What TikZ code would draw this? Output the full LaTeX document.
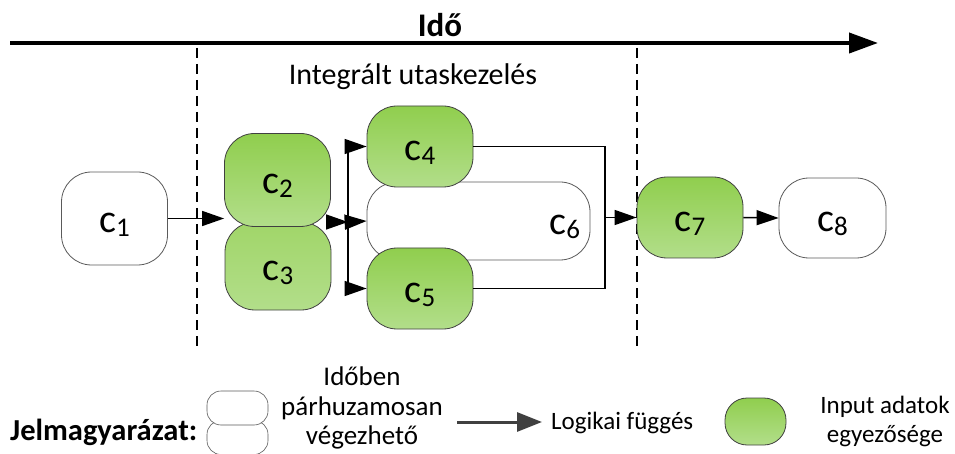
\documentclass[tikz,border=0pt]{standalone}
\usepackage{fontspec}
\setmainfont{Carlito}
\usepackage{xcolor}
\usepackage{tikz}
\usetikzlibrary{arrows.meta}
\usetikzlibrary{calc}
\usetikzlibrary{positioning}

\definecolor{inputtop}{RGB}{144,206,78}
\definecolor{inputbot}{RGB}{178,222,138}
\definecolor{edgegray}{RGB}{90,90,90}
\definecolor{legendarrow}{RGB}{64,64,64}

\newcommand{\csub}[1]{c\raisebox{-4pt}{\fontsize{27}{27}\selectfont #1}}

\tikzset{
  task/.style={draw=edgegray, line width=0.8pt, fill=white, rounded corners=30pt,
    minimum width=106pt, minimum height=81pt, inner sep=0pt,
    text height=31pt, text depth=3pt,
    font=\fontsize{40}{40}\selectfont},
  input/.style={task, draw=black!75, top color=inputtop, bottom color=inputbot},
  link/.style={line width=1.5pt, -{Triangle[length=22pt,width=15pt]}},
  phase/.style={line width=1.4pt, dash pattern=on 10pt off 6pt},
  label/.style={inner sep=0pt, align=center, font=\fontsize{25}{29}\selectfont},
}

\begin{document}
\begin{tikzpicture}[x=1pt, y=-1pt]

  \useasboundingbox (0, 0) rectangle (955, 454);

  % time axis
  \coordinate (t0) at (10, 43);
  \coordinate (t1) at (878, 43);
  \draw [line width=4pt, -{Triangle[length=29pt,width=20pt]}] (t0) -- (t1);
  \node [inner sep=0pt, font=\fontsize{33}{33}\selectfont\bfseries] (ido) at (440, 25) {Idő};

  \draw [phase] (197, 48) -- (197, 352);
  \draw [phase] (637, 48) -- (637, 352);
  \node [label, font=\fontsize{30}{30}\selectfont] (integ) at (413, 77) {Integrált utaskezelés};

  % tasks
  \node [task, minimum height=93pt] (c1) at (114.5, 218.5) {\csub{1}};
  \node [input, minimum height=88pt, top color=inputtop!85!white] (c3) at (278, 266) {\csub{3}};
  \node [input, minimum height=93pt] (c2) at (277.5, 180) {\csub{2}};
  \node [task, minimum width=223pt, minimum height=78pt, text width=203pt,
    align=right, inner xsep=10pt] (c6) at (478.5, 221) {\csub{6}};
  \node [input] (c4) at (420, 146.5) {\csub{4}};
  \node [input] (c5) at (420, 288.5) {\csub{5}};
  \node [input] (c7) at (690, 217.5) {\csub{7}};
  \node [task, minimum width=107pt, minimum height=80pt] (c8) at (832.5, 218) {\csub{8}};

  % dependencies
  \coordinate (fork) at (348, 222);
  \coordinate (merge) at (605, 217.5);
  \draw [link] (c1.east) -- (c1.east -| c2.west);
  \draw [link] (c2.south east |- fork) -- (fork);
  \draw [line width=1.5pt] (fork |- c4.west) -- (fork |- c5.west);
  \draw [link] (fork |- c4.west) -- (c4.west);
  \draw [link] (fork) -- (c6.west);
  \draw [link] (fork |- c5.west) -- (c5.west);
  \draw [line width=1.5pt] (c4.east) -| (merge) |- (c5.east);
  \draw [link] (merge) -- (c7.west);
  \draw [link] (c7.east) -- (c8.west);

  % legend
  \node [inner sep=0pt, anchor=west, font=\fontsize{30.5}{30.5}\selectfont\bfseries] (jel) at (10, 432) {Jelmagyarázat:};
  \node [task, line width=0.6pt, rounded corners=14pt, minimum width=61pt, minimum height=31pt] (par2) at (237.5, 437.5) {};
  \node [task, line width=0.6pt, rounded corners=14pt, minimum width=61pt, minimum height=30pt] (par1) at (237.5, 408) {};
  \node [label, font=\fontsize{27}{29.5}\selectfont] (partext) at (362, 408) {Időben\\párhuzamosan\\végezhető};
  \coordinate (dep0) at (457, 422);
  \coordinate (dep1) at (542, 422);
  \draw [draw=legendarrow, line width=3pt, -{Triangle[length=25pt,width=19pt]}] (dep0) -- (dep1);
  \node [label, anchor=west] (deptext) at (551, 423) {Logikai függés};
  \node [input, rounded corners=22pt, minimum width=61pt, minimum height=47pt] (inp) at (755.5, 421.5) {};
  \node [label] (inptext) at (885, 421) {Input adatok\\egyezősége};

\end{tikzpicture}
\end{document}
